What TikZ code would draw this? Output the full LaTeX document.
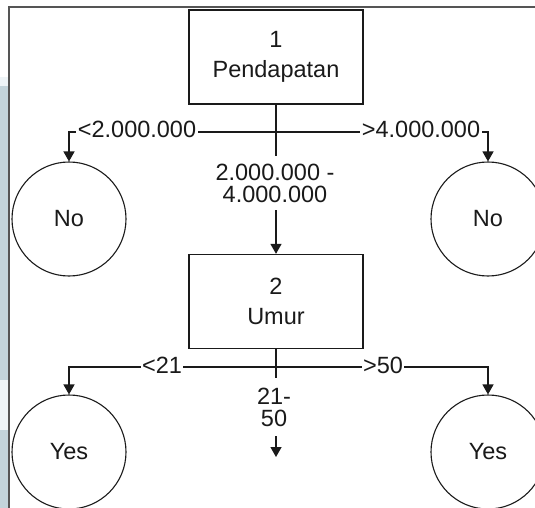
\documentclass[tikz,border=0pt]{standalone}
\usepackage{fontspec}
\setmainfont{Liberation Sans}
\usetikzlibrary{arrows.meta}
\definecolor{strip}{HTML}{C3D4DB}
\definecolor{strippale}{HTML}{EEF4F7}
\definecolor{frameline}{HTML}{555555}
\definecolor{ink}{HTML}{1A1A1A}
\begin{document}
\begin{tikzpicture}[x=1pt,y=-1pt,
  txt/.style={font=\fontsize{23.5}{30}\selectfont, text=ink},
  decision/.style={txt, draw=ink, line width=1.3pt, minimum width=174pt,
    minimum height=94pt, align=center, inner sep=0pt},
  leaf/.style={txt, draw=ink, line width=1.1pt, circle, minimum size=114pt, inner sep=0pt},
  edgelabel/.style={font=\fontsize{23.5}{22}\selectfont, text=ink, fill=white,
    inner xsep=1.5pt, inner ysep=1pt, align=center},
  conn/.style={draw=ink, line width=1.3pt},
  arr/.style={conn, -{Triangle[length=10pt,width=11pt]}},
]
\useasboundingbox (0,0) rectangle (535,508);
\fill[white] (0,0) rectangle (535,508);
% side panel and frame
\fill[strippale] (0,77) rectangle (9,86);
\fill[strip] (0,86) rectangle (9,380);
\fill[strippale] (0,380) rectangle (9,430);
\fill[strip] (0,430) rectangle (9,508);
\draw[frameline, line width=1.3pt] (9,508) -- (9,7) -- (535,7);

% decision nodes
\node[decision] (n1) at (276,57) {1\\Pendapatan};
\node[decision] (n2) at (276,301.5) {2\\Umur};

% leaves
\node[leaf] (no1) at (69,219) {No};
\node[leaf] (no2) at (488,219) {No};
\node[leaf] (yes1) at (69,452) {Yes};
\node[leaf] (yes2) at (488,452) {Yes};
\coordinate (mid) at (276,457);

% branches of node 1
\draw[arr] (n1.south) -- (276,132) -| (no1.north);
\draw[arr] (n1.south) -- (276,132) -| (no2.north);
\draw[arr] (n1.south) -- (n2.north);
\node[edgelabel] (l1a) at (137,129) {<2.000.000};
\node[edgelabel] (l1b) at (421,129) {>4.000.000};
\node[edgelabel, inner ysep=8pt] (l1c) at (275,183) {2.000.000 -\\4.000.000};

% branches of node 2
\draw[arr] (n2.south) -- (276,367) -| (yes1.north);
\draw[arr] (n2.south) -- (276,367) -| (yes2.north);
\draw[arr] (n2.south) -- (mid);
\node[edgelabel] (l2a) at (162,365) {<21};
\node[edgelabel] (l2b) at (383,365) {>50};
\node[edgelabel, inner ysep=10pt] (l2c) at (274,407) {21-\\50};
\end{tikzpicture}
\end{document}
